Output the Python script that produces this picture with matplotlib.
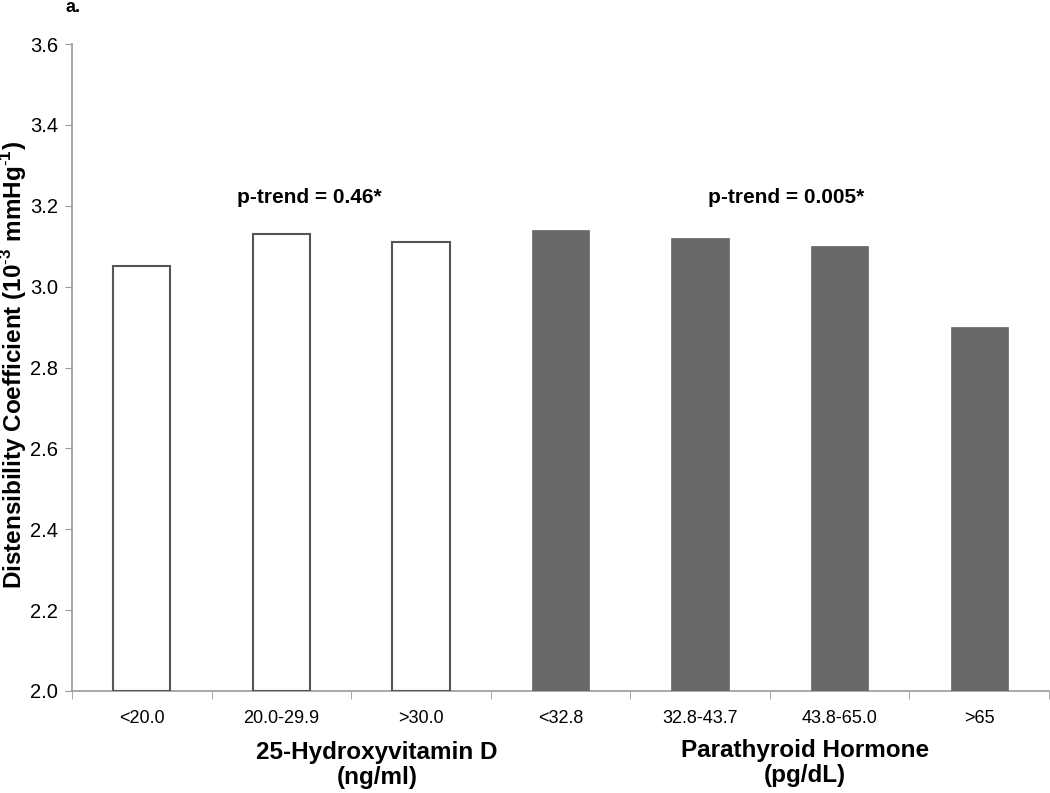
import matplotlib
matplotlib.use("Agg")
import matplotlib.pyplot as plt
import numpy as np

plt.rcParams['font.family'] = ['Liberation Sans', 'DejaVu Sans']
plt.rcParams['mathtext.fontset'] = 'custom'
plt.rcParams['mathtext.bf'] = 'Liberation Sans:bold'
plt.rcParams['mathtext.rm'] = 'Liberation Sans'

categories = ["<20.0", "20.0-29.9", ">30.0", "<32.8", "32.8-43.7", "43.8-65.0", ">65"]
values = [3.05, 3.13, 3.11, 3.14, 3.12, 3.10, 2.90]
is_vitd = [True, True, True, False, False, False, False]
y_ticks = [2.0, 2.2, 2.4, 2.6, 2.8, 3.0, 3.2, 3.4, 3.6]
group_labels = ["25-Hydroxyvitamin D\n(ng/ml)", "Parathyroid Hormone\n(pg/dL)"]
ptrend_labels = ["p-trend = 0.46*", "p-trend = 0.005*"]

W, H = 1050, 793
fig = plt.figure(figsize=(W / 100, H / 100), dpi=100)
ax = fig.add_axes([72 / W, 1 - 691 / H, (1049 - 72) / W, (691 - 44) / H])

x = np.arange(len(categories))
for xi, v, vd in zip(x, values, is_vitd):
    if vd:
        ax.bar(xi, v - 2.0, bottom=2.0, width=0.41, facecolor='white',
               edgecolor='#555555', linewidth=1.5, zorder=3)
    else:
        ax.bar(xi, v - 2.0, bottom=2.0, width=0.41, facecolor='#686868',
               edgecolor='#686868', linewidth=0.5, zorder=3)

ax.set_xlim(-0.5, len(categories) - 0.5)
ax.set_ylim(2.0, 3.6)
ax.set_yticks(y_ticks)
ax.set_yticklabels([f"{t:.1f}" for t in y_ticks], fontsize=14.5)
ax.set_xticks(x)
ax.set_xticklabels(categories, fontsize=13)
ax.tick_params(axis='x', length=0, pad=14)
ax.set_xticks(np.arange(-0.5, len(categories) + 0.5, 1.0), minor=True)
ax.tick_params(axis='x', which='minor', length=6, color='#999999', direction='out')
ax.tick_params(axis='y', length=5, color='#999999', pad=5)

for s in ['top', 'right']:
    ax.spines[s].set_visible(False)
ax.spines['left'].set_color('#999999')
ax.spines['bottom'].set_color('#999999')
ax.spines['left'].set_linewidth(1.2)
ax.spines['bottom'].set_linewidth(1.2)

fig.text(14 / W, 1 - 365 / H,
         r"Distensibility Coefficient (10$^{\mathbf{\text{-}3}}$ mmHg$^{\mathbf{\text{-}1}}$)",
         rotation=90, ha='center', va='center', fontsize=17.5, fontweight='bold')

ax.text(1.2, 3.22, ptrend_labels[0], ha='center', va='center', fontsize=15, fontweight='bold')
ax.text(4.62, 3.22, ptrend_labels[1], ha='center', va='center', fontsize=15, fontweight='bold')

fig.text(377 / W, 1 - 765 / H, group_labels[0], ha='center', va='center',
         fontsize=17.5, fontweight='bold', linespacing=1.12)
fig.text(805 / W, 1 - 763 / H, group_labels[1], ha='center', va='center',
         fontsize=17.5, fontweight='bold', linespacing=1.12)

fig.text(73 / W, 1 - 7 / H, "a.", ha='center', va='center', fontsize=13, fontweight='bold')

fig.savefig("out.png", dpi=100)
